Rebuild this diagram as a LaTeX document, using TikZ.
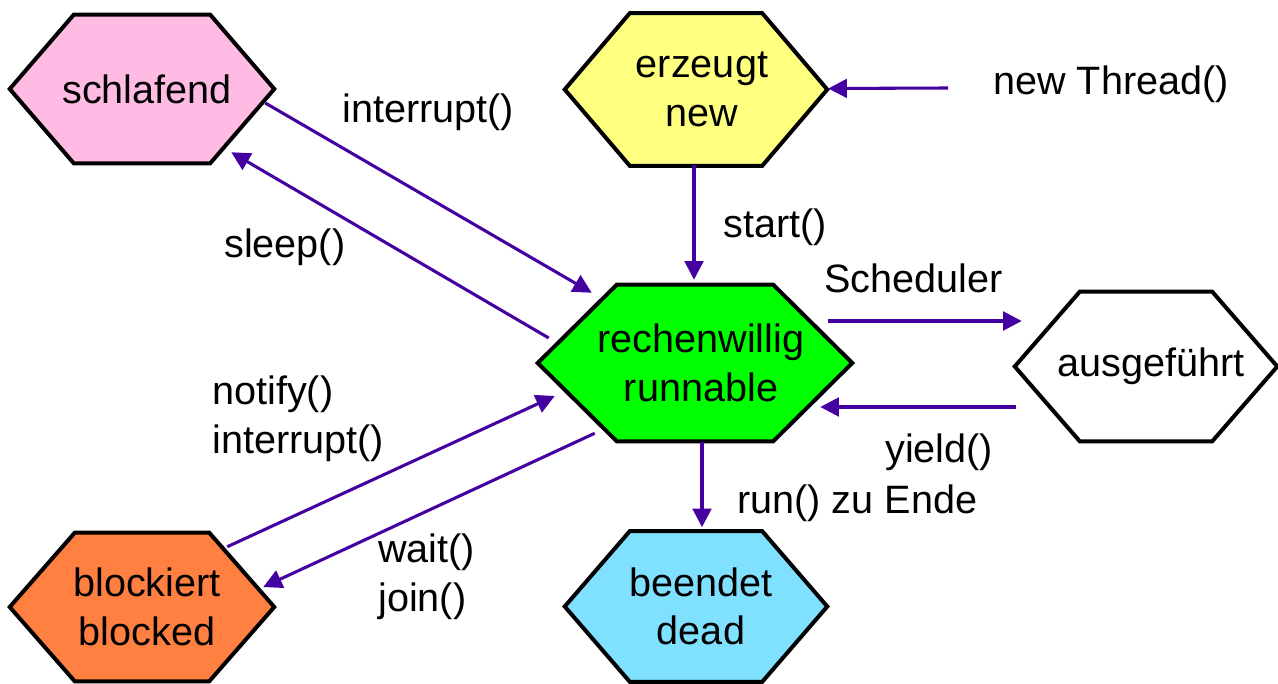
\documentclass[tikz,border=0pt]{standalone}
\usepackage{fontspec}
\setmainfont{Liberation Sans}
\usetikzlibrary{arrows.meta,calc,backgrounds}
\definecolor{arrowc}{RGB}{68,0,160}
\definecolor{pinkc}{RGB}{255,187,227}
\definecolor{yellowc}{RGB}{255,255,128}
\definecolor{greenc}{RGB}{0,255,0}
\definecolor{orangec}{RGB}{255,128,64}
\definecolor{bluec}{RGB}{128,224,255}
% #1 node, #2 slant, #3 fill, #4 horizontal offset of the outline from the node box
\newcommand\hexshape[4]{%
  \begin{scope}[on background layer]
    \filldraw[hexline, fill=#3] ($(#1.west)+(#4,0)$) -- ($(#1.north west)+(#2+#4,0)$)
      -- ($(#1.north east)+(-#2+#4,0)$) -- ($(#1.east)+(#4,0)$)
      -- ($(#1.south east)+(-#2+#4,0)$) -- ($(#1.south west)+(#2+#4,0)$) -- cycle;
  \end{scope}}
\begin{document}
\begin{tikzpicture}[x=0.75pt,y=-0.75pt,
  txt/.style={font=\fontsize{29.7}{36.5}\selectfont},
  hexbox/.style={txt, inner sep=0pt, align=center},
  lbl/.style={txt, inner sep=0pt, anchor=base west, align=left},
  conn/.style={draw=arrowc, line width=2.3pt, -{Triangle[length=14pt,width=14pt]}},
  hexline/.style={draw=black, line width=3pt, line join=miter}]
\useasboundingbox (0,0) rectangle (1278,684);

\node[hexbox, minimum width=198pt, minimum height=111pt] (schl) at (147,89) {schlafend};
\hexshape{schl}{64}{pinkc}{-5}
\node[hexbox, minimum width=196.5pt, minimum height=114pt] (erz) at (702,89.5) {erzeugt\\new};
\hexshape{erz}{65}{yellowc}{-6}
\node[hexbox, minimum width=235.5pt, minimum height=117pt] (rech) at (701,363) {rechenwillig\\runnable};
\hexshape{rech}{79}{greenc}{-6}
\node[hexbox, minimum width=196.5pt, minimum height=111.75pt] (ausg) at (1151,366.5) {ausgeführt};
\hexshape{ausg}{65}{white}{-5}
\node[hexbox, minimum width=198pt, minimum height=111pt] (blk) at (147,607) {blockiert\\blocked};
\hexshape{blk}{65}{orangec}{-5}
\node[hexbox, minimum width=196.5pt, minimum height=112.5pt] (beend) at (701,606.5) {beendet\\dead};
\hexshape{beend}{65}{bluec}{-5}

\coordinate (newstart) at (948,88);
\node[lbl] (lnew) at (993,95) {new Thread()};
\draw[conn] (newstart) -- ($(erz.east)+(-5,-1)$);

\draw[conn] ($(erz.south)+(-8,-1)$) -- ($(rech.north)+(-7,-5)$);
\node[lbl] (lstart) at (723,238) {start()};

\draw[conn] ($(schl.east)+(-14,14)$) -- ($(rech.north west)+(48,8)$);
\node[lbl] (lint) at (342,123) {interrupt()};

\draw[conn] ($(rech.west)+(5,-25)$) -- ($(schl.south east)+(-48,-11)$);
\node[lbl] (lsleep) at (224,258) {sleep()};

\draw[conn] ($(rech.east)+(-30,-42)$) -- ($(ausg.west)+(2,-45.5)$);
\node[lbl] (lsched) at (824,293) {Scheduler};

\draw[conn] ($(ausg.west)+(-4,40.5)$) -- ($(rech.east)+(-38,44)$);
\node[lbl] (lyield) at (885,462) {yield()};

\draw[conn] ($(rech.south)+(1,1)$) -- ($(beend.north)+(1,-4)$);
\node[lbl] (lrun) at (737,513) {run() zu Ende};

\draw[conn] ($(blk.north east)+(-52,14)$) -- ($(rech.west)+(11,33)$);
\node[lbl] (lnotify) at (212,453) {notify()\\interrupt()};

\draw[conn] ($(rech.south west)+(51,-8)$) -- ($(blk.east)+(-16,-20)$);
\node[lbl] (lwait) at (378,611) {wait()\\join()};
\end{tikzpicture}
\end{document}
